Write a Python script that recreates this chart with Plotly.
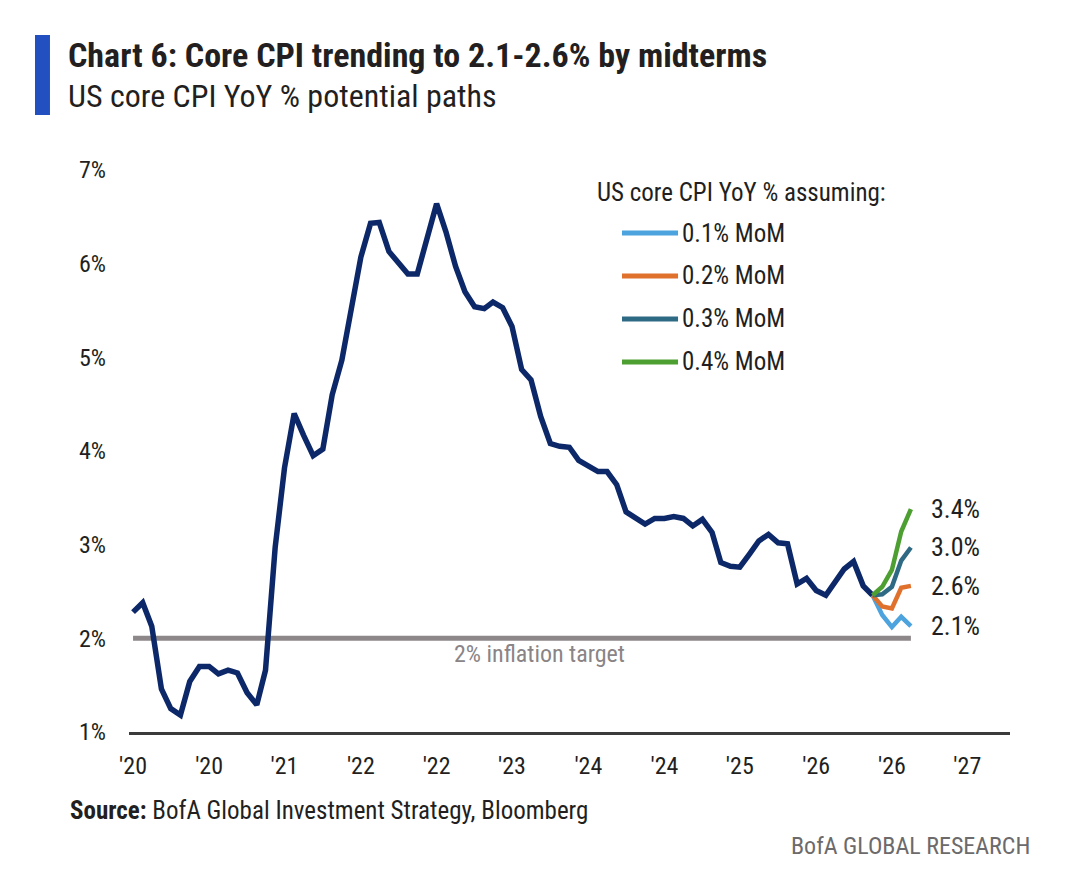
import pandas as pd
import plotly.graph_objects as go

# ----------------------------------------------------------------------
# Data (US core CPI YoY %, monthly)
# ----------------------------------------------------------------------
start_month = "2020-01-01"

core_cpi_yoy = [
    2.28, 2.38, 2.13, 1.46, 1.25, 1.18, 1.54, 1.70, 1.70, 1.62, 1.66, 1.63,
    1.42, 1.29, 1.66, 2.97, 3.82, 4.40, 4.17, 3.95, 4.02, 4.60, 4.97, 5.52,
    6.07, 6.43, 6.44, 6.13, 6.01, 5.89, 5.89, 6.29, 6.64, 6.34, 5.97, 5.70,
    5.54, 5.52, 5.59, 5.53, 5.33, 4.87, 4.76, 4.37, 4.08, 4.05, 4.04, 3.90,
    3.84, 3.78, 3.78, 3.64, 3.35, 3.28, 3.22, 3.28, 3.28, 3.30, 3.28, 3.20,
    3.27, 3.13, 2.81, 2.77, 2.76, 2.90, 3.04, 3.11, 3.02, 3.01, 2.58, 2.64,
    2.51, 2.46, 2.60, 2.74, 2.82, 2.56, 2.46,
]

# potential paths, starting at the last actual print
path_names = ["0.1% MoM", "0.2% MoM", "0.3% MoM", "0.4% MoM"]
path_01 = [2.46, 2.25, 2.12, 2.23, 2.13]
path_02 = [2.46, 2.34, 2.32, 2.54, 2.56]
path_03 = [2.46, 2.47, 2.55, 2.83, 2.97]
path_04 = [2.46, 2.55, 2.73, 3.14, 3.38]
path_end_labels = ["2.1%", "2.6%", "3.0%", "3.4%"]
path_colors = ["#4ca3dd", "#e0712c", "#2f6a84", "#4e9f32"]

inflation_target = 2.0

y_ticks = [1, 2, 3, 4, 5, 6, 7]
y_tick_labels = ["1%", "2%", "3%", "4%", "5%", "6%", "7%"]

dates = pd.date_range(start_month, periods=len(core_cpi_yoy), freq="MS")
path_dates = pd.date_range(dates[-1], periods=len(path_01), freq="MS")

FONT = "Liberation Sans Narrow, Roboto Condensed, Arial Narrow, sans-serif"
TXT = "#231f20"


def note(text, x, y, size, color=TXT, xanchor="left", **kw):
    fig.add_annotation(text=text, x=x, y=y, showarrow=False,
                       xanchor=xanchor, yanchor="middle",
                       font=dict(size=size, color=color, family=FONT), **kw)


fig = go.Figure()

# 2% inflation target line
fig.add_trace(go.Scatter(
    x=[dates[0], path_dates[-1]], y=[inflation_target, inflation_target],
    mode="lines", line=dict(color="#8d8789", width=5),
    showlegend=False, hoverinfo="skip"))

# actual core CPI
fig.add_trace(go.Scatter(
    x=dates, y=core_cpi_yoy, mode="lines",
    line=dict(color="#0c2868", width=5.5),
    showlegend=False, name="US core CPI YoY %"))

# projected paths + legend drawn by hand (longer swatches than plotly's)
legend_top = 0.8879
legend_step = 0.0765
for i, (name, vals, col) in enumerate(zip(path_names,
                                          [path_01, path_02, path_03, path_04],
                                          path_colors)):
    fig.add_trace(go.Scatter(
        x=path_dates, y=vals, mode="lines", name=name,
        showlegend=False, line=dict(color=col, width=4.5)))
    note(path_end_labels[i], path_dates[-1], vals[-1], 26, xshift=18)

    ly = legend_top - i * legend_step
    fig.add_shape(type="line", xref="paper", yref="paper",
                  x0=0.5596, x1=0.6232, y0=ly, y1=ly,
                  line=dict(color=col, width=5))
    note(name, 0.6255, ly, 25, xref="paper", yref="paper")

note("US core CPI YoY % assuming:", 0.5289, 0.9591, 25,
     xref="paper", yref="paper")

note("2% inflation target", 0.4665, inflation_target, 24,
     color="#8a8486", xanchor="center", xref="paper", yshift=-16)

# titles and footer
fig.add_shape(type="rect", xref="paper", yref="paper",
              x0=-0.1067, x1=-0.0897, y0=1.098, y1=1.240,
              fillcolor="#2350c0", line_width=0)
note("<b>Chart 6: Core CPI trending to 2.1-2.6% by midterms</b>",
     -0.071, 1.2046, 34, xref="paper", yref="paper")
note("US core CPI YoY % potential paths", -0.071, 1.1317, 32,
     xref="paper", yref="paper")
note("<b>Source:</b> BofA Global Investment Strategy, Bloomberg",
     -0.069, -0.1388, 25, xref="paper", yref="paper")
note("BofA GLOBAL RESEARCH", 1.025, -0.2028, 24, color="#6d6a6b",
     xanchor="right", xref="paper", yref="paper")

fig.update_layout(
    width=1080, height=885,
    margin=dict(l=121, r=78, t=162, b=161),
    paper_bgcolor="white", plot_bgcolor="white",
    font=dict(family=FONT, size=24, color=TXT),
    showlegend=False,
    xaxis=dict(type="date", range=["2019-12-19", "2027-09-15"],
               tick0=start_month, dtick="M8", tickformat="'%y",
               showgrid=False, zeroline=False, showline=True,
               linecolor="#3b3b3b", linewidth=3, ticks="",
               ticklabelstandoff=10, tickfont=dict(size=24, color=TXT)),
    yaxis=dict(range=[1, 7], tickmode="array", tickvals=y_ticks,
               ticktext=y_tick_labels,
               showgrid=False, zeroline=False, showline=False, ticks="",
               ticklabelstandoff=22, tickfont=dict(size=24, color=TXT)),
)

fig.write_html("out.html")
